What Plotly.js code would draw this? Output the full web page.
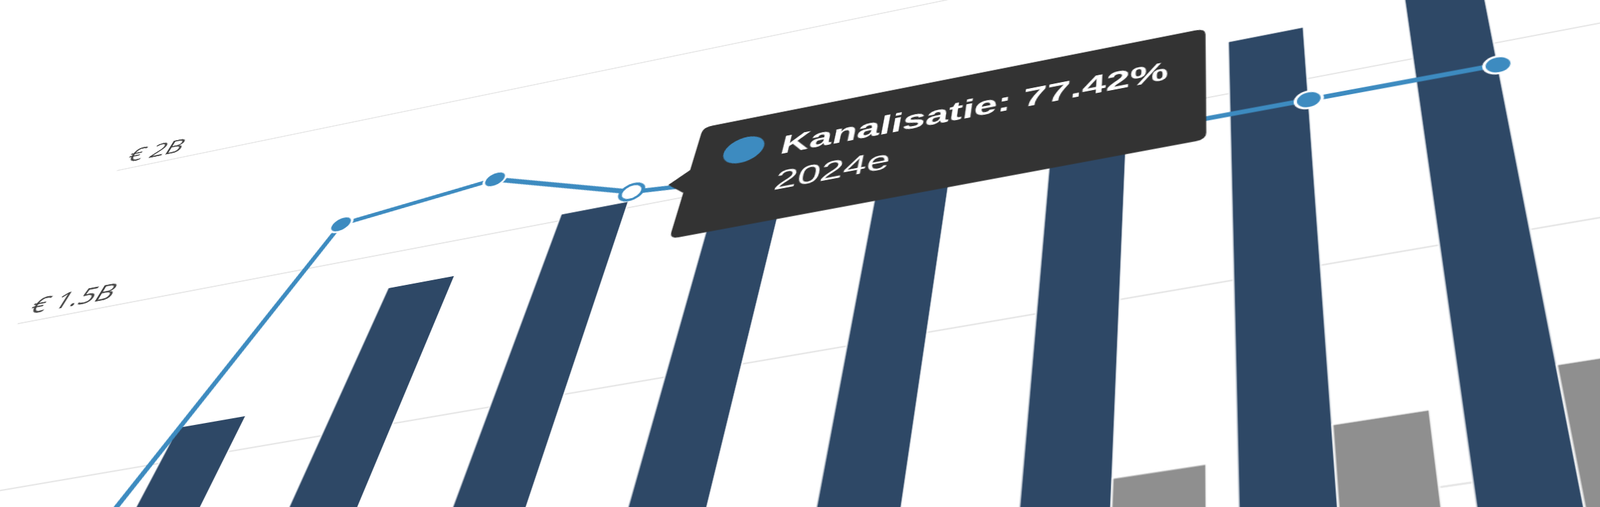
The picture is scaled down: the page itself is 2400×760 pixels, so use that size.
<!DOCTYPE html>
<html>
<head>
<meta charset="utf-8">
<script src="https://cdn.plot.ly/plotly-3.0.1.min.js"></script>
<style>
  html, body { margin: 0; padding: 0; width: 2400px; height: 760px; overflow: hidden; background: #ffffff; }
  #chart { position: absolute; left: 0; top: 0; transform-origin: 0 0; }
</style>
</head>
<body>
<div id="chart"></div>
<script>
// ---------------- data ----------------
const categories   = ['2021', '2022', '2023', '2024e', '2025e', '2026e', '2027e', '2028e', '2029e'];
const omzet        = [0.80, 1.09, 1.39, 1.52, 1.56, 1.60, 1.63, 1.66, 1.76];   // € billions (navy)
const overig       = [0.30, 0.35, 0.40, 0.45, 0.50, 0.56, 0.61, 0.65, 0.70];   // € billions (grey)
const kanalisatie  = [17.0, 81.4, 84.0, 77.42, 75.5, 73.5, 72.0, 71.9, 71.8];  // percent
const hoverIndex   = 3;
const yTickVals    = [0, 0.5, 1, 1.5, 2];
const yTickText    = ['€ 0', '€ 0.5B', '€ 1B', '€ 1.5B', '€ 2B'];
const seriesName   = 'Kanalisatie';

// ---------------- view (perspective) calibration: [category index, value(B), screenX, screenY] ----------------
const viewCalibration = [
  [1, 2, 584.1, 173.2], [1, 1.5, 477.1, 399.0], [1, 1, 345.8, 676.0],
  [2, 2, 807.4, 127.3], [2, 1.5, 709.9, 354.6], [2, 1, 589.8, 634.4],
  [3, 2, 1023.4, 82.9], [3, 1.5, 941.9, 310.5], [3, 1, 841.3, 591.6],
  [4, 2, 1234.3, 39.6], [4, 1.5, 1179.7, 265.3], [4, 1, 1111.9, 545.4],
  [5, 1.5, 1430.7, 217.5], [5, 1, 1389.5, 498.1],
  [6, 1.5, 1691.8, 167.8], [6, 1, 1678.6, 448.8],
  [7, 1.5, 1962.2, 116.4], [7, 1, 1981.3, 397.2],
  [8, 1.5, 2237.0, 64.1], [8, 1, 2293.7, 343.9], [8, 0.5, 2367.0, 706.7]
];
const plotLeftEdgeScreen = [[25, 485], [176, 257]];

function fitH(pts) {
  const N = 8;
  const A = Array.from({length: N}, () => new Array(N).fill(0));
  const b = new Array(N).fill(0);
  for (const [u, v, X, Y] of pts) {
    const rows = [[[u, v, 1, 0, 0, 0, -u * X, -v * X], X], [[0, 0, 0, u, v, 1, -u * Y, -v * Y], Y]];
    for (const [r, t] of rows) {
      for (let i = 0; i < N; i++) { b[i] += r[i] * t; for (let j = 0; j < N; j++) A[i][j] += r[i] * r[j]; }
    }
  }
  for (let c = 0; c < N; c++) {
    let p = c;
    for (let r = c + 1; r < N; r++) if (Math.abs(A[r][c]) > Math.abs(A[p][c])) p = r;
    [A[c], A[p]] = [A[p], A[c]]; [b[c], b[p]] = [b[p], b[c]];
    for (let r = 0; r < N; r++) {
      if (r === c) continue;
      const f = A[r][c] / A[c][c];
      for (let k = c; k < N; k++) A[r][k] -= f * A[c][k];
      b[r] -= f * b[c];
    }
  }
  const h = b.map((x, i) => x / A[i][i]);
  return [[h[0], h[1], h[2]], [h[3], h[4], h[5]], [h[6], h[7], 1]];
}
function mul(a, b) {
  const r = [[0,0,0],[0,0,0],[0,0,0]];
  for (let i = 0; i < 3; i++) for (let j = 0; j < 3; j++) for (let k = 0; k < 3; k++) r[i][j] += a[i][k] * b[k][j];
  return r;
}
function inv3(m) {
  const [a,b,c] = m[0], [d,e,f] = m[1], [g,h,i] = m[2];
  const A = e*i - f*h, B = -(d*i - f*g), C = d*h - e*g;
  const det = a*A + b*B + c*C;
  return [[A/det, -(b*i - c*h)/det, (b*f - c*e)/det],
          [B/det, (a*i - c*g)/det, -(a*f - c*d)/det],
          [C/det, -(a*h - b*g)/det, (a*e - b*d)/det]];
}
function apply(m, x, y) {
  const w = m[2][0]*x + m[2][1]*y + m[2][2];
  return [(m[0][0]*x + m[0][1]*y + m[0][2]) / w, (m[1][0]*x + m[1][1]*y + m[1][2]) / w];
}

const H = fitH(viewCalibration);
const Hi = inv3(H);
const xmin = plotLeftEdgeScreen.map(p => apply(Hi, p[0], p[1])[0]).reduce((s, x) => s + x, 0) / plotLeftEdgeScreen.length;
const xmax = categories.length;
const ymin = 0, ymax = 2.25;

// flat chart geometry
const cw = 172;   // px per category
const bh = 520;   // px per billion
const M = {l: 10, r: 10, t: 10, b: 20};
const Wp = (xmax - xmin) * cw, Hp = (ymax - ymin) * bh;
const W = Math.round(M.l + Wp + M.r), Ht = Math.round(M.t + Hp + M.b);

// ---------------- plot ----------------
const navy = '#2e4866', grey = '#8f8f8f', blue = '#3d8bc0', dark = '#333333';

const traces = [
  { type: 'bar', x: categories, y: omzet, name: 'Omzet', marker: {color: navy, line: {color: '#ffffff', width: 1.5}}, hoverinfo: 'skip' },
  { type: 'bar', x: categories, y: overig, name: 'Overig', marker: {color: grey, line: {color: '#ffffff', width: 1.5}}, hoverinfo: 'skip' },
  { type: 'scatter', mode: 'lines+markers', x: categories, y: kanalisatie, yaxis: 'y2', name: seriesName,
    line: {color: blue, width: 7}, marker: {color: blue, size: 25, line: {color: '#ffffff', width: 3}}, hoverinfo: 'skip' },
  { type: 'scatter', mode: 'markers', x: [categories[hoverIndex]], y: [kanalisatie[hoverIndex]], yaxis: 'y2',
    marker: {color: '#ffffff', size: 25, line: {color: blue, width: 4}}, hoverinfo: 'skip', showlegend: false }
];

const tipFont = {family: 'Liberation Sans, Arial, sans-serif', size: 43, color: '#ffffff'};
const boxPath = 'M 40,0 L 60,18 L 60,78 Q 60,88 70,88 L 582,88 Q 592,88 592,78 L 592,-78 Q 592,-88 582,-88 L 70,-88 Q 60,-88 60,-78 L 60,-18 Z';

const layout = {
  width: W, height: Ht,
  margin: {l: M.l, r: M.r, t: M.t, b: M.b, pad: 0, autoexpand: false},
  paper_bgcolor: '#ffffff', plot_bgcolor: '#ffffff',
  showlegend: false,
  barmode: 'group', bargap: 0.14, bargroupgap: 0,
  xaxis: { type: 'category', range: [xmin, xmax], showgrid: false, zeroline: false, showline: false,
           showticklabels: false, automargin: false },
  yaxis: { range: [ymin, ymax], tickvals: yTickVals, ticktext: yTickText, ticklabelposition: 'inside top',
           ticks: '', ticklabelstandoff: 2, showgrid: true, gridcolor: '#e6e6e6', gridwidth: 2,
           zeroline: false, showline: false, automargin: false,
           tickfont: {family: 'Open Sans', size: 36, color: '#444'} },
  yaxis2: { overlaying: 'y', side: 'right', range: [ymin * 50, ymax * 50], showgrid: false, zeroline: false,
            showticklabels: false, ticks: '', automargin: false },
  shapes: [
    { type: 'path', xref: 'x', yref: 'y2', xsizemode: 'pixel', ysizemode: 'pixel',
      xanchor: hoverIndex, yanchor: kanalisatie[hoverIndex], path: boxPath,
      fillcolor: dark, line: {width: 0}, layer: 'above' },
    { type: 'circle', xref: 'x', yref: 'y2', xsizemode: 'pixel', ysizemode: 'pixel',
      xanchor: hoverIndex, yanchor: kanalisatie[hoverIndex], x0: 93, x1: 137, y0: 14, y1: 56,
      fillcolor: blue, line: {width: 0}, layer: 'above' }
  ],
  annotations: [
    { xref: 'x', yref: 'y2', x: hoverIndex, y: kanalisatie[hoverIndex], xanchor: 'left', yanchor: 'middle',
      xshift: 154, yshift: 31, showarrow: false, align: 'left', font: tipFont,
      text: '<b>' + seriesName + ': ' + kanalisatie[hoverIndex].toFixed(2) + '%</b>' },
    { xref: 'x', yref: 'y2', x: hoverIndex, y: kanalisatie[hoverIndex], xanchor: 'left', yanchor: 'middle',
      xshift: 157, yshift: -26, showarrow: false, align: 'left', font: tipFont,
      text: categories[hoverIndex] }
  ]
};

const gd = document.getElementById('chart');
gd.style.width = W + 'px';
gd.style.height = Ht + 'px';

Plotly.newPlot(gd, traces, layout, {displayModeBar: false, staticPlot: true}).then(() => {
  const Mflat = [[1 / cw, 0, xmin - M.l / cw], [0, -1 / bh, ymax + M.t / bh], [0, 0, 1]];
  let G = mul(H, Mflat);
  const s = G[2][2];
  G = G.map(r => r.map(x => x / s));
  gd.style.transform = 'matrix3d(' + [G[0][0], G[1][0], 0, G[2][0], G[0][1], G[1][1], 0, G[2][1], 0, 0, 1, 0, G[0][2], G[1][2], 0, G[2][2]].join(',') + ')';
});
</script>
</body>
</html>
